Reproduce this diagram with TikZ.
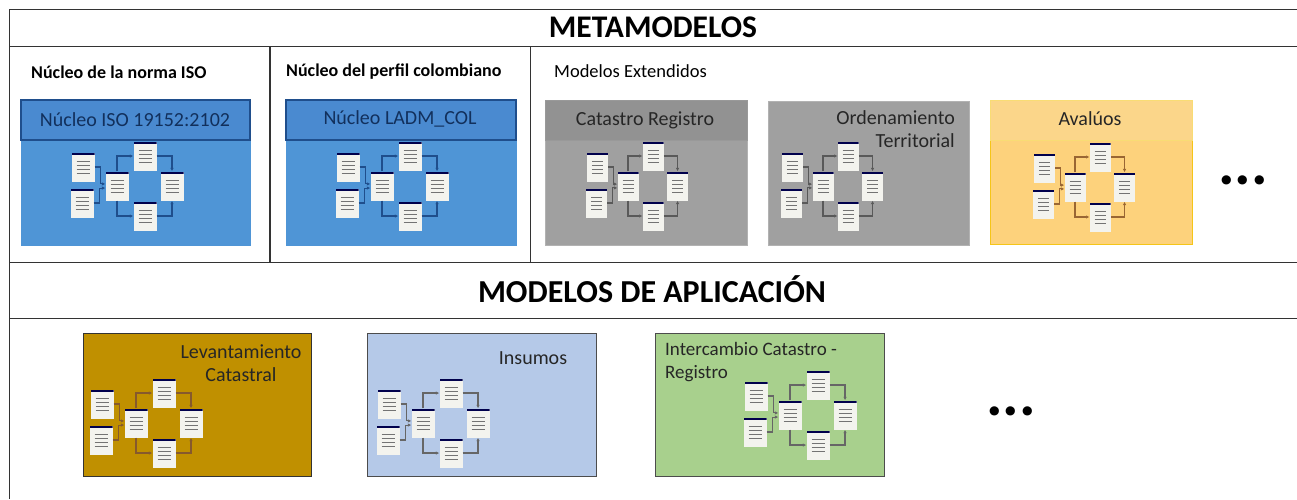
\documentclass[tikz,border=0pt]{standalone}
\usepackage{fontspec}
\setmainfont{Carlito}
\usetikzlibrary{arrows.meta}
\definecolor{isoblue}{HTML}{4F95D6}
\definecolor{isohead}{HTML}{4A8AD0}
\definecolor{isodark}{HTML}{1F4E8C}
\definecolor{isotextc}{HTML}{12305C}
\definecolor{greybox}{HTML}{A0A0A0}
\definecolor{greyhead}{HTML}{929292}
\definecolor{yellowbox}{HTML}{FDD27C}
\definecolor{yellowhead}{HTML}{FBD68A}
\definecolor{yellowline}{HTML}{F5C518}
\definecolor{brownbox}{HTML}{C09000}
\definecolor{lightblue}{HTML}{B5C9E8}
\definecolor{greenbox}{HTML}{A8D08D}
\definecolor{classfill}{HTML}{F3F3EE}
\tikzset{
  frameline/.style={draw=black!80,line width=1pt},
  panel/.style={draw=#1,line width=1pt},
  classbox/.style={draw=none,fill=classfill,minimum width=23pt,minimum height=29pt,inner sep=0pt,
    path picture={
      \fill[black!70!blue] (path picture bounding box.north west) rectangle ([yshift=-2.5pt]path picture bounding box.north east);
      \foreach \d in {9,13,17,21}
        \draw[black!55,line width=.6pt] ([xshift=5pt,yshift=-\d pt]path picture bounding box.north west) -- ([xshift=-5pt,yshift=-\d pt]path picture bounding box.north east);
    }},
  narrowring/.style={xscale=.9,classbox/.append style={minimum width=21pt}},
  classlink/.style={draw=#1,line width=1.1pt,-{Latex[length=3.5pt,width=3.5pt]}},
  boxlabel/.style={text=black!85,font=\fontsize{20}{23}\selectfont,align=center,inner sep=0pt},
  headlabel/.style={text=black,font=\fontsize{18}{20}\selectfont\bfseries,anchor=west,inner sep=0pt},
  bigtitle/.style={text=black,font=\fontsize{32}{36}\selectfont\bfseries,inner sep=0pt},
  moredots/.style={text=black,font=\fontsize{62}{62}\selectfont\bfseries,inner sep=0pt}
}
% six classes around one centre, #3 = position of the left centre class
\newcommand{\classring}[4][]{
  \begin{scope}[shift={#3},#1]
    \node[classbox] (#2c) at (0,0) {};
    \node[classbox] (#2u) at (-34,-19) {};
    \node[classbox] (#2d) at (-35,17) {};
    \node[classbox] (#2t) at (28,-30) {};
    \node[classbox] (#2r) at (55,0) {};
    \node[classbox] (#2b) at (28,30) {};
    \draw[classlink=#4] (#2u.east) -- ++(6,0) |- (#2c.170);
    \draw[classlink=#4] (#2d.east) -- ++(6,0) |- (#2c.190);
    \draw[classlink=#4] (#2c.north) |- (#2t.west);
    \draw[classlink=#4] (#2t.east) -| (#2r.north);
    \draw[classlink=#4] (#2c.south) |- (#2b.west);
    \draw[classlink=#4] (#2b.east) -| (#2r.south);
  \end{scope}
}
\begin{document}
\begin{tikzpicture}[x=1pt,y=-1pt]
  \useasboundingbox (0,0) rectangle (1297,499);
  % frame
  \draw[frameline] (1297,9) -- (9,9) -- (9,499);
  \draw[frameline] (9,46) -- (1297,46);
  \draw[frameline] (9,262) -- (1297,262);
  \draw[frameline] (9,318) -- (1297,318);
  \draw[frameline,line width=1.6pt] (270,46) -- (270,262);
  \draw[frameline] (530,46) -- (530,262);
  \node[bigtitle,font=\fontsize{31.5}{36}\selectfont\bfseries] (metamodelos) at (653,27) {METAMODELOS};
  \node[bigtitle] (aplicacion) at (652,289) {MODELOS DE APLICACIÓN};
  \node[headlabel] (nucleoiso) at (31,72) {Núcleo de la norma ISO};
  \node[headlabel] (nucleocol) at (286,72) {Núcleo del perfil colombiano};
  \node[headlabel,font=\fontsize{18.5}{20}\selectfont] (extendidos) at (554,71) {Modelos Extendidos};
  % metamodelos
  \draw[panel=isoblue,fill=isoblue] (21,100) rectangle (250,245);
  \draw[draw=isodark,line width=1.5pt,fill=isohead] (21,100) rectangle (250,140);
  \node[boxlabel,text=isotextc] (isotext) at (135,120) {Núcleo ISO 19152:2102};
  \classring{a}{(117,186)}{isodark}
  \draw[panel=isoblue,fill=isoblue] (286,100) rectangle (516,245);
  \draw[draw=isodark,line width=1.5pt,fill=isohead] (286,100) rectangle (516,140);
  \node[boxlabel,text=isotextc] (coltext) at (400,119) {Núcleo LADM\_COL};
  \classring{b}{(382,186)}{isodark}
  \draw[panel=black!30,fill=greybox] (545,100) rectangle (747,245);
  \draw[draw=black!40,fill=greyhead] (545,100) rectangle (747,140);
  \node[boxlabel] (cattext) at (645,120) {Catastro Registro};
  \classring[narrowring]{c}{(628,186)}{black!65}
  \draw[panel=black!30,fill=greybox] (768,101) rectangle (969,245);
  \node[boxlabel,align=right,anchor=north east] (ordtext) at (955,110) {Ordenamiento\\Territorial};
  \classring[narrowring]{d}{(823,186)}{black!65}
  \draw[panel=yellowline,fill=yellowbox] (990,100) rectangle (1192,244);
  \draw[draw=yellowline!60,fill=yellowhead] (990,100) rectangle (1192,140);
  \node[boxlabel] (avatext) at (1090,119) {Avalúos};
  \classring[narrowring]{e}{(1075,187)}{brown!80!black}
  \node[moredots] (moremeta) at (1243,180) {...};
  % modelos de aplicacion
  \draw[panel=black!80,fill=brownbox] (83,333) rectangle (311,476);
  \node[boxlabel,anchor=north] (levtext) at (241,345) {Levantamiento\\Catastral};
  \classring{f}{(136,423)}{brown!70!black}
  \draw[panel=black!70,fill=lightblue] (367,333) rectangle (596,476);
  \node[boxlabel] (instext) at (533,358) {Insumos};
  \classring{g}{(423,423)}{black!60}
  \draw[panel=black!70,fill=greenbox] (655,333) rectangle (884,476);
  \node[boxlabel,font=\fontsize{19}{23}\selectfont,align=left,anchor=north west] (intext) at (665,342) {Intercambio Catastro -\\Registro};
  \classring{h}{(790,415)}{black!60}
  \node[moredots] (moreapl) at (1011,411) {...};
\end{tikzpicture}
\end{document}
